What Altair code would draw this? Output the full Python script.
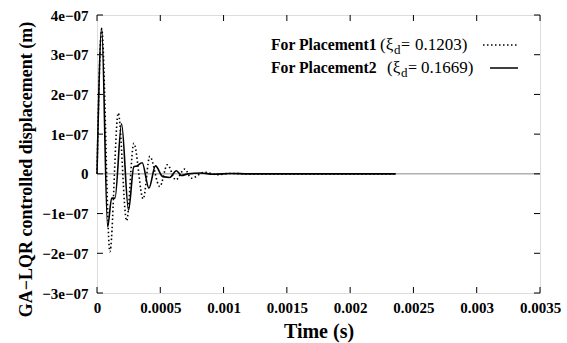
import altair as alt
import pandas as pd

# ---- data ----
t_p1 = [0.0, 0.000037, 0.000102, 0.000168, 0.000234, 0.000291, 0.000365, 0.000417,
        0.000496, 0.000556, 0.000622, 0.000693, 0.000745, 0.00085, 0.00095, 0.00105,
        0.0012, 0.0015, 0.0018, 0.0021, 0.00236]
v_p1 = [0.0, 3.65e-7, -1.96e-7, 1.53e-7, -1.18e-7, 0.77e-7, -0.63e-7, 0.44e-7,
        -0.32e-7, 0.23e-7, -0.15e-7, 0.12e-7, -0.11e-7, 0.04e-7, -0.02e-7, 0.01e-7,
        0.0, 0.0, 0.0, 0.0, 0.0]

t_p2 = [0.0, 0.000037, 0.000084, 0.000116, 0.000142, 0.000194, 0.000249, 0.000291,
        0.000315, 0.000357, 0.00041, 0.000462, 0.00052, 0.000575, 0.000627, 0.000667,
        0.00072, 0.00082, 0.00092, 0.00105, 0.0012, 0.0015, 0.0018, 0.0021, 0.00236]
v_p2 = [0.0, 3.67e-7, -1.33e-7, -0.61e-7, -0.61e-7, 1.26e-7, -0.91e-7, 0.18e-7,
        0.2e-7, 0.28e-7, -0.36e-7, 0.2e-7, -0.07e-7, -0.09e-7, 0.08e-7, -0.04e-7,
        0.0, 0.02e-7, -0.01e-7, 0.01e-7, 0.0, 0.0, 0.0, 0.0, 0.0]

x_ticks = [0, 0.0005, 0.001, 0.0015, 0.002, 0.0025, 0.003, 0.0035]
y_ticks = [-3e-7, -2e-7, -1e-7, 0, 1e-7, 2e-7, 3e-7, 4e-7]

series_names = ["For Placement1", "For Placement2"]
xi_values = ["0.1203)", "0.1669)"]

W, H = 443, 278
FONT = "Liberation Serif"

df = pd.concat([
    pd.DataFrame({"t": t_p1, "v": v_p1, "s": series_names[0]}),
    pd.DataFrame({"t": t_p2, "v": v_p2, "s": series_names[1]}),
])

xs = alt.Scale(domain=[0, 0.0035], nice=False, zero=False)
ys = alt.Scale(domain=[-3e-7, 4e-7], nice=False, zero=False)

xaxis = alt.Axis(values=x_ticks, ticks=False, grid=False, domain=False,
                 labelFont=FONT, labelFontWeight="bold", labelFontSize=15,
                 labelColor="black", labelPadding=7, labelFlush=False,
                 title="Time (s)", titleFont=FONT, titleFontWeight="bold",
                 titleFontSize=20, titleColor="black", titlePadding=6,
                 labelExpr="datum.value == 0 ? '0' : format(datum.value, '.4~f')")
yaxis = alt.Axis(values=y_ticks, ticks=False, grid=False, domain=False,
                 labelFont=FONT, labelFontWeight="bold", labelFontSize=15,
                 labelColor="black", labelPadding=9, labelFlush=False,
                 title="GA\u2212LQR controlled displacement (m)", titleFont=FONT,
                 titleFontWeight="bold", titleFontSize=18, titleColor="black",
                 titlePadding=6, titleY=154,
                 labelExpr="datum.value == 0 ? '0' : replace(format(round(datum.value*1e7), 'd'), '-', '\u2212') + 'e\u221207'")

zero_line = alt.Chart(pd.DataFrame({"v": [0]})).mark_rule(color="#8a8a8a", strokeWidth=1).encode(
    y=alt.Y("v:Q", scale=ys, axis=yaxis), x=alt.value(0), x2=alt.value(W))

p1 = alt.Chart(df[df.s == series_names[0]]).mark_line(
    color="black", strokeWidth=1.6, strokeDash=[1.5, 2.5], interpolate="monotone").encode(
    x=alt.X("t:Q", scale=xs, axis=xaxis), y=alt.Y("v:Q", scale=ys, axis=yaxis))
p2 = alt.Chart(df[df.s == series_names[1]]).mark_line(
    color="black", strokeWidth=1.6, interpolate="monotone").encode(
    x=alt.X("t:Q", scale=xs, axis=xaxis), y=alt.Y("v:Q", scale=ys, axis=yaxis))

TL = 6
xt = pd.DataFrame({"t": x_ticks})
yt = pd.DataFrame({"v": y_ticks})
tick_bottom = alt.Chart(xt).mark_rule(color="black").encode(
    x=alt.X("t:Q", scale=xs, axis=xaxis), y=alt.value(H), y2=alt.value(H - TL))
tick_top = alt.Chart(xt).mark_rule(color="black").encode(
    x=alt.X("t:Q", scale=xs, axis=xaxis), y=alt.value(0), y2=alt.value(TL))
tick_left = alt.Chart(yt).mark_rule(color="black").encode(
    y=alt.Y("v:Q", scale=ys, axis=yaxis), x=alt.value(0), x2=alt.value(TL))
tick_right = alt.Chart(yt).mark_rule(color="black").encode(
    y=alt.Y("v:Q", scale=ys, axis=yaxis), x=alt.value(W), x2=alt.value(W - TL))

one = pd.DataFrame({"a": [0]})
legend_layers = []
# (y, x name, x "(xi", x "d", x "=", x number, sample start, dotted)
rows = [(30, 174, 283, 297, 304, 318, 386, True),
        (53, 174, 290, 304, 311, 324, 393, False)]
for i, (yy, xname, xxi, xd, xeq, xnum, xs0, dotted) in enumerate(rows):
    legend_layers.append(alt.Chart(one).mark_text(
        text=series_names[i], font=FONT, fontWeight="bold", fontSize=15.7,
        align="left", baseline="middle", color="black").encode(
        x=alt.value(xname), y=alt.value(yy)))
    legend_layers.append(alt.Chart(one).mark_text(
        text="(\u03be", font=FONT, fontSize=17, align="left", baseline="middle",
        color="black").encode(x=alt.value(xxi), y=alt.value(yy)))
    legend_layers.append(alt.Chart(one).mark_text(
        text="d", font=FONT, fontSize=13, align="left", baseline="middle",
        color="black").encode(x=alt.value(xd), y=alt.value(yy + 5)))
    legend_layers.append(alt.Chart(one).mark_text(
        text="=", font=FONT, fontSize=16, align="left",
        baseline="middle", color="black").encode(x=alt.value(xeq), y=alt.value(yy)))
    legend_layers.append(alt.Chart(one).mark_text(
        text=xi_values[i], font=FONT, fontSize=17, align="left",
        baseline="middle", color="black").encode(x=alt.value(xnum), y=alt.value(yy)))
    legend_layers.append(alt.Chart(one).mark_rule(
        color="black", strokeWidth=1.4,
        strokeDash=[1.5, 2.5] if dotted else [1, 0]).encode(
        x=alt.value(xs0), x2=alt.value(421), y=alt.value(yy)))

chart = alt.layer(zero_line, p1, p2, tick_bottom, tick_top, tick_left, tick_right,
                  *legend_layers).properties(
    width=W, height=H,
    autosize=alt.AutoSizeParams(type="none"),
    padding={"left": 97, "top": 15, "right": 27, "bottom": 50},
).configure_view(stroke="black", strokeWidth=1.2).configure(background="white")

chart.save("out.html", embed_options={"renderer": "svg", "actions": False})
